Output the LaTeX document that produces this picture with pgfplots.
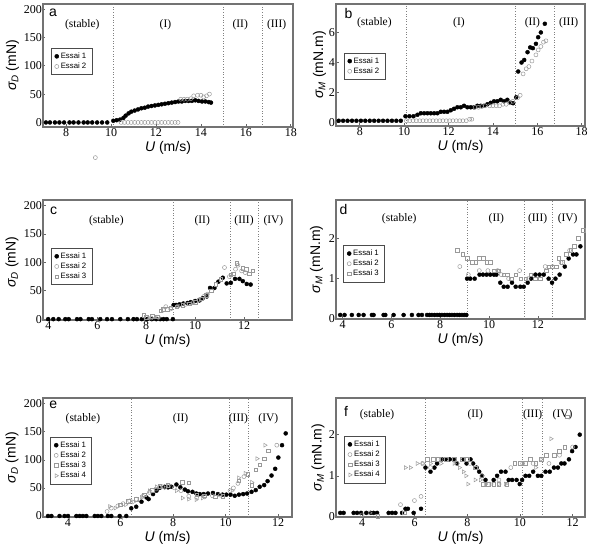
\documentclass[border=0pt]{standalone}
\usepackage{fontspec}
\setmainfont{Liberation Serif}
\setsansfont{Liberation Sans}
\usepackage{pgfplots}
\pgfplotsset{compat=1.18}
\newcommand{\lab}{\sffamily\fontsize{14}{16}\selectfont}
\newcommand{\rl}{\fontsize{11.5}{12}\selectfont}
\tikzset{vl/.style={black!50, dotted, line width=0.6pt}}
\pgfplotsset{
 panel/.style={scale only axis, anchor=south west,
   axis line style={black!55, line width=1.1pt},
   tick align=inside, xtick pos=bottom, ytick pos=left,
   major tick length=2.5pt, tick style={black!60, line width=0.6pt},
   /pgf/number format/assume math mode=true,
   xticklabel={\pgfmathprintnumber[assume math mode=true]{\tick}},
   yticklabel={\pgfmathprintnumber[assume math mode=true]{\tick}},
   ticklabel style={font=\rmfamily\fontsize{12}{13}\selectfont},
   xticklabel style={inner sep=1pt},
   yticklabel style={inner sep=1pt},
   legend style={font=\sffamily\fontsize{7.8}{8.8}\selectfont, draw=black!70, line width=0.5pt, inner xsep=3.5pt, inner ysep=2.5pt, anchor=north west, row sep=-1pt},
   legend cell align=left,
   xlabel={{\itshape U} (m/s)},
   xlabel style={font=\lab, at={(axis description cs:0.5,0)}, anchor=center, yshift=-21pt},
   ylabel style={font=\lab, anchor=center},
 },
 e1/.style={only marks, mark=*, mark size=2pt, black},
 e2/.style={only marks, mark=o, mark size=2pt, black!40, mark options={line width=0.5pt}},
 e3/.style={only marks, mark=square, mark size=1.8pt, black!40, mark options={line width=0.5pt}},
 e4/.style={only marks, mark=triangle, mark size=2.2pt, black!40, mark options={rotate=-90, line width=0.5pt}},
}
\begin{document}
\begin{tikzpicture}
\useasboundingbox (0,0) rectangle (591pt,553pt);
% ---------------- a
\begin{axis}[panel, at={(43pt,426pt)}, width=250pt, height=123pt,
  xmin=6.97, xmax=18.1, ymin=-8, ymax=209, clip=false,
  xtick={8,10,...,18}, ytick={0,50,100,150,200},
  ylabel={{\itshape σ}\textsubscript{\itshape D} (mN)},
  ylabel style={at={(axis description cs:-0.122,0.5)}},
  legend style={at={(rel axis cs:0.032,0.642)}}]
\draw[vl] (axis cs:10.1,-8) -- (axis cs:10.1,209);
\draw[vl] (axis cs:15.0,-8) -- (axis cs:15.0,209);
\draw[vl] (axis cs:16.75,-8) -- (axis cs:16.75,209);
\addplot[e1] coordinates {(7.1,0)(7.28,0)(7.5,0)(7.7,0)(7.91,0)(8.15,0)(8.33,0)(8.55,0)(8.78,0)(8.96,0)(9.16,0)(9.38,0)(9.6,0)(9.83,0)(10.1,3)(10.25,4)(10.4,5)(10.55,8)(10.65,12)(10.78,16)(10.9,19)(11.05,21)(11.2,23)(11.35,25)(11.5,26)(11.65,28)(11.8,29)(11.95,30)(12.1,31)(12.25,32)(12.4,33)(12.55,34)(12.7,35)(12.85,36)(13.0,37)(13.15,37)(13.3,38)(13.45,38)(13.6,38)(13.75,39)(13.9,38)(14.05,37)(14.2,37)(14.35,36)(14.45,35)};
\addlegendentry{Essai 1}
\addplot[e2] coordinates {(10.45,0)(10.6,0)(10.75,0)(10.9,0)(11.05,0)(11.2,0)(11.35,0)(11.5,0)(11.65,0)(11.8,0)(11.95,0)(12.1,0)(12.25,0)(12.4,0)(12.55,0)(12.7,0)(12.85,0)(12.98,0)(13.1,41)(13.25,41)(13.4,41)(13.55,42)(13.68,47)(13.85,48)(14.0,48)(14.12,45)(14.25,47)(14.38,50)(9.3,-62)};
\addlegendentry{Essai 2}
\node[font=\sffamily\fontsize{14}{14}\selectfont] at (rel axis cs:0.04,0.927) {a};
\node[font=\rl] at (axis cs:8.72,172) {(stable)};
\node[font=\rl] at (axis cs:12.42,172) {(I)};
\node[font=\rl] at (axis cs:15.75,172) {(II)};
\node[font=\rl] at (axis cs:17.37,172) {(III)};
\end{axis}
% ---------------- b
\begin{axis}[panel, at={(336pt,427pt)}, width=249pt, height=122pt,
  xmin=6.93, xmax=18.15, ymin=-0.25, ymax=7.9,
  xtick={8,10,...,18}, ytick={0,2,4,6},
  ylabel={{\itshape σ}\textsubscript{\itshape M} (mN.m)},
  ylabel style={at={(axis description cs:-0.066,0.5)}},
  legend style={at={(rel axis cs:0.032,0.6)}}]
\draw[vl] (axis cs:10.1,-0.25) -- (axis cs:10.1,7.9);
\draw[vl] (axis cs:15.0,-0.25) -- (axis cs:15.0,7.9);
\draw[vl] (axis cs:16.75,-0.25) -- (axis cs:16.75,7.9);
\addplot[e1] coordinates {(7.05,0.1)(7.25,.1)(7.45,.1)(7.65,.1)(7.85,.1)(8.05,.1)(8.25,.1)(8.45,.1)(8.65,.1)(8.85,.1)(9.05,.1)(9.25,.1)(9.45,.1)(9.65,.1)(9.85,.1)(10.06,0.4)(10.24,0.4)(10.42,0.4)(10.6,0.5)(10.75,0.6)(10.9,0.6)(11.05,0.6)(11.2,0.6)(11.35,0.6)(11.5,0.6)(11.65,0.7)(11.8,0.7)(11.95,0.7)(12.1,0.8)(12.25,0.9)(12.4,1.0)(12.55,1.0)(12.7,1.1)(12.85,1.0)(13.0,1.0)(13.15,1.0)(13.3,1.1)(13.45,1.1)(13.6,1.1)(13.75,1.2)(13.9,1.3)(14.05,1.4)(14.2,1.4)(14.35,1.5)(14.5,1.4)(14.65,1.5)(14.8,1.3)(14.91,1.27)(15.05,1.67)(15.14,3.39)(15.29,3.99)(15.41,4.16)(15.56,4.68)(15.68,5.0)(15.8,4.95)(15.94,5.24)(16.04,5.68)(16.16,6.0)(16.34,6.58)};
\addlegendentry{Essai 1}
\addplot[e2] coordinates {(10.1,.1)(10.25,.1)(10.4,.1)(10.55,.1)(10.7,.1)(10.85,.1)(11.0,.1)(11.15,.1)(11.3,.1)(11.45,.1)(11.6,.1)(11.75,.1)(11.9,.1)(12.05,.1)(12.2,.1)(12.35,.1)(12.5,.1)(12.65,.1)(12.8,.1)(12.95,0.2)(13.05,0.2)(13.2,1.0)(13.35,1.0)(13.5,1.05)(13.65,1.1)(13.85,1.1)(14.0,1.1)(14.15,1.1)(14.3,1.1)(14.45,1.2)(14.6,1.2)(14.75,1.3)(14.9,1.4)(15.11,1.63)(15.23,1.8)(15.36,3.23)(15.5,3.57)(15.62,3.72)(15.76,4.09)(15.94,4.5)(16.04,4.83)(16.16,5.06)(16.28,5.35)(16.39,5.44)};
\addlegendentry{Essai 2}
\node[font=\sffamily\fontsize{14}{14}\selectfont] at (rel axis cs:0.05,0.924) {b};
\node[font=\rl] at (axis cs:8.66,6.62) {(stable)};
\node[font=\rl] at (axis cs:12.47,6.62) {(I)};
\node[font=\rl] at (axis cs:15.78,6.62) {(II)};
\node[font=\rl] at (axis cs:17.41,6.62) {(III)};
\end{axis}
% ---------------- c
\begin{axis}[panel, at={(43pt,233pt)}, width=249pt, height=120pt,
  xmin=3.78, xmax=13.96, ymin=-1.5, ymax=210,
  xtick={4,6,...,12}, ytick={0,50,100,150,200},
  ylabel={{\itshape σ}\textsubscript{\itshape D} (mN)},
  ylabel style={at={(axis description cs:-0.124,0.48)}},
  legend style={at={(rel axis cs:0.032,0.6)}}]
\draw[vl] (axis cs:9.12,-1.5) -- (axis cs:9.12,210);
\draw[vl] (axis cs:11.44,-1.5) -- (axis cs:11.44,210);
\draw[vl] (axis cs:12.6,-1.5) -- (axis cs:12.6,210);
\addplot[e1] coordinates {(3.99,0)(4.2,0)(4.42,0)(4.69,0)(4.83,0)(5.17,0)(5.31,0)(5.65,0)(5.78,0)(6.12,0)(6.4,0)(6.6,0)(6.94,0)(7.25,0)(7.48,0)(7.62,0)(7.82,0)(8.03,0)(8.23,0)(8.41,0)(8.57,0)(8.71,0)(8.84,0)(9.09,0)(9.12,25)(9.22,25)(9.36,26)(9.52,27.5)(9.69,28.5)(9.82,30)(10.0,32)(10.18,33)(10.31,37)(10.48,40)(10.61,55)(10.79,55)(10.95,66)(11.13,73)(11.29,63)(11.46,64)(11.63,71)(11.81,71)(11.95,67)(12.11,62)(12.27,61)};
\addlegendentry{Essai 1}
\addplot[e2] coordinates {(8.0,3)(8.2,2)(8.5,3)(8.7,16)(8.8,22)(9.0,18)(9.3,23)(9.6,26)(9.9,29)(10.15,34)(10.35,40)(10.5,44)(11.2,91)(11.4,75)(11.65,88)(11.75,95)(11.9,85)(12.05,82)};
\addlegendentry{Essai 2}
\addplot[e3] coordinates {(7.9,7)(8.0,3)(8.25,5)(8.45,4)(8.6,15)(8.7,17)(8.85,17)(9.0,20)(9.25,22)(9.5,24)(9.75,27)(10.0,30)(10.25,36)(10.45,42)(10.65,50)(10.85,62)(11.05,70)(11.45,78)(11.55,80)(11.7,98)(11.95,90)(12.1,88)(12.2,80)(12.35,85)};
\addlegendentry{Essai 3}
\node[font=\sffamily\fontsize{14}{14}\selectfont] at (rel axis cs:0.043,0.91) {c};
\node[font=\rl] at (axis cs:6.37,173) {(stable)};
\node[font=\rl] at (axis cs:10.29,173) {(II)};
\node[font=\rl] at (axis cs:12.0,173) {(III)};
\node[font=\rl] at (axis cs:13.2,173) {(IV)};
\end{axis}
% ---------------- d
\begin{axis}[panel, at={(336pt,234pt)}, width=249pt, height=119pt,
  xmin=3.73, xmax=13.93, ymin=0, ymax=2.95,
  xtick={4,6,...,12}, ytick={0,1,2},
  ylabel={{\itshape σ}\textsubscript{\itshape M} (mN.m)},
  ylabel style={at={(axis description cs:-0.078,0.5)}},
  legend style={at={(rel axis cs:0.03,0.62)}}]
\draw[vl] (axis cs:9.1,0) -- (axis cs:9.1,2.95);
\draw[vl] (axis cs:11.46,0) -- (axis cs:11.46,2.95);
\draw[vl] (axis cs:12.6,0) -- (axis cs:12.6,2.95);
\addplot[e1] coordinates {(3.9,.1)(4.08,.1)(4.38,.1)(4.66,.1)(4.86,.1)(5.2,.1)(5.27,.1)(5.68,.1)(5.75,.1)(6.09,.1)(6.5,.1)(6.84,.1)(7.11,.1)(7.25,.1)(7.46,.1)(7.56,.1)(7.66,.1)(7.77,.1)(7.87,.1)(7.97,.1)(8.07,.1)(8.18,.1)(8.28,.1)(8.38,.1)(8.48,.1)(8.58,.1)(8.69,.1)(8.79,.1)(8.89,.1)(8.98,.1)(9.07,.1)(9.1,1.0)(9.23,1.0)(9.41,1.0)(9.61,1.1)(9.75,1.1)(9.9,1.1)(10.05,1.1)(10.2,1.1)(10.3,1.1)(10.46,0.9)(10.6,0.8)(10.76,0.8)(10.94,0.9)(11.09,0.8)(11.28,0.8)(11.42,0.8)(11.58,0.9)(11.72,1.0)(11.9,1.1)(12.07,1.1)(12.24,1.1)(12.44,1.0)(12.58,0.9)(12.72,1.0)(12.89,1.1)(13.1,1.3)(13.26,1.5)(13.44,1.6)(13.58,1.6)(13.74,1.8)};
\addlegendentry{Essai 1}
\addplot[e2] coordinates {(8.8,1.3)(9.15,1.1)(9.6,1.2)(9.95,1.2)(10.35,1.2)(10.5,1.1)(10.8,1.0)(11.25,1.2)(11.6,1.0)(12.3,1.3)(12.6,1.3)(12.95,1.4)(13.3,1.7)};
\addlegendentry{Essai 2}
\addplot[e3] coordinates {(8.69,1.7)(8.93,1.6)(9.1,1.5)(9.3,1.4)(9.45,1.4)(9.6,1.5)(9.75,1.5)(9.9,1.4)(10.05,1.4)(10.2,1.2)(10.4,1.2)(10.6,1.1)(10.75,1.1)(10.9,1.0)(11.1,1.1)(11.3,1.0)(11.5,1.0)(11.7,1.1)(11.9,1.0)(12.1,1.0)(12.35,1.2)(12.45,1.3)(12.6,1.3)(12.75,1.3)(12.85,1.5)(13.0,1.4)(13.15,1.6)(13.35,1.7)(13.5,1.8)(13.65,2.0)(13.85,2.2)};
\addlegendentry{Essai 3}
\node[font=\sffamily\fontsize{14}{14}\selectfont] at (rel axis cs:0.03,0.916) {d};
\node[font=\rl] at (axis cs:6.32,2.49) {(stable)};
\node[font=\rl] at (axis cs:10.3,2.49) {(II)};
\node[font=\rl] at (axis cs:11.99,2.49) {(III)};
\node[font=\rl] at (axis cs:13.22,2.49) {(IV)};
\end{axis}
% ---------------- e
\begin{axis}[panel, at={(43pt,36pt)}, width=249pt, height=119pt,
  xmin=3.05, xmax=12.53, ymin=-1.8, ymax=210,
  xtick={4,6,...,12}, ytick={0,50,100,150,200},
  ylabel={{\itshape σ}\textsubscript{\itshape D} (mN)},
  ylabel style={at={(axis description cs:-0.124,0.5)}},
  legend style={at={(rel axis cs:0.03,0.673)}}]
\draw[vl] (axis cs:6.42,-1.8) -- (axis cs:6.42,210);
\draw[vl] (axis cs:10.13,-1.8) -- (axis cs:10.13,210);
\draw[vl] (axis cs:10.88,-1.8) -- (axis cs:10.88,210);
\addplot[e1] coordinates {(3.24,0)(3.37,0)(3.68,0)(3.87,0)(4.0,0)(4.32,0)(4.45,0)(4.57,0)(4.7,0)(5.02,0)(5.14,0)(5.27,0)(5.52,0)(5.65,0)(5.97,0)(6.22,0)(6.41,13.6)(6.6,16.5)(6.8,25.4)(6.99,33)(7.07,30)(7.24,39)(7.37,45)(7.49,50)(7.68,52)(7.81,51)(7.94,52)(8.13,56)(8.28,51)(8.45,47)(8.57,44)(8.74,43)(8.89,40)(9.02,39)(9.17,39)(9.33,40)(9.52,41)(9.71,39)(9.88,38)(10.03,38)(10.19,38)(10.35,36)(10.51,38)(10.67,39)(10.82,40)(10.99,43)(11.15,46)(11.3,52)(11.47,55)(11.6,62)(11.75,72)(11.89,84)(12.01,104)(12.15,126)(12.29,147)};
\addlegendentry{Essai 1}
\addplot[e2] coordinates {(5.49,8)(5.65,14)(5.9,18)(6.1,22)(6.35,27)(6.6,30)(6.85,35)(7.1,42)(7.35,48)(7.6,52)(7.85,54)(8.05,50)(8.3,45)(8.6,35)(8.9,33)(9.2,34)(9.5,36)(9.8,37)(10.17,45)(10.3,50)(10.47,58)(10.7,70)(11.95,126)};
\addlegendentry{Essai 2}
\addplot[e3] coordinates {(6.0,20)(6.3,26)(6.6,30)(6.9,38)(7.2,46)(7.5,53)(7.8,55)(8.36,60)(8.6,59)(8.9,38)(9.2,36)(9.6,34)(9.9,35)(10.5,63)(10.85,74)(11.0,55)(11.15,82)(11.3,91)(11.47,102)(11.62,116)};
\addlegendentry{Essai 3}
\addplot[e4] coordinates {(5.59,17)(5.8,14)(6.2,20)(6.5,25)(6.8,33)(7.1,45)(7.37,52)(7.7,50)(8.13,45)(8.36,32)(8.6,30)(8.88,29)(9.12,32)(10.25,45)(10.5,68)(10.75,76)(11.0,60)(11.2,102)(11.5,126)};
\addlegendentry{Essai 4}
\node[font=\sffamily\fontsize{14}{14}\selectfont] at (rel axis cs:0.041,0.94) {e};
\node[font=\rl] at (axis cs:4.57,173) {(stable)};
\node[font=\rl] at (axis cs:8.29,173) {(II)};
\node[font=\rl] at (axis cs:10.49,173) {(III)};
\node[font=\rl] at (axis cs:11.63,173) {(IV)};
\end{axis}
% ---------------- f
\begin{axis}[panel, at={(336pt,36pt)}, width=249pt, height=119pt,
  xmin=3.01, xmax=12.47, ymin=0, ymax=2.89,
  xtick={4,6,...,12}, ytick={0,1,2},
  ylabel={{\itshape σ}\textsubscript{\itshape M} (mN.m)},
  ylabel style={at={(axis description cs:-0.072,0.5)}},
  legend style={at={(rel axis cs:0.033,0.68)}}]
\draw[vl] (axis cs:6.41,0) -- (axis cs:6.41,2.89);
\draw[vl] (axis cs:10.1,0) -- (axis cs:10.1,2.89);
\draw[vl] (axis cs:10.84,0) -- (axis cs:10.84,2.89);
\addplot[e1] coordinates {(3.17,.1)(3.3,.1)(3.68,.1)(3.81,.1)(3.96,.1)(4.16,.1)(4.32,.1)(4.44,.1)(4.57,.1)(5.01,.1)(5.14,.1)(5.27,.1)(5.52,.1)(5.65,0.2)(5.74,0.2)(5.96,0.1)(6.24,0.2)(6.41,1.2)(6.6,1.1)(6.75,1.2)(6.85,1.3)(7.04,1.4)(7.17,1.4)(7.33,1.4)(7.48,1.4)(7.61,1.3)(7.86,1.4)(7.97,1.3)(8.12,1.4)(8.22,1.3)(8.35,1.2)(8.45,1.1)(8.56,1.0)(8.69,0.9)(9.0,0.9)(9.13,1.0)(9.28,1.1)(9.45,1.1)(9.57,0.9)(9.7,0.9)(9.87,0.9)(9.99,0.8)(10.08,0.9)(10.21,1.0)(10.35,1.0)(10.5,1.1)(10.68,1.0)(10.81,1.0)(10.97,1.1)(11.13,1.1)(11.29,1.2)(11.44,1.2)(11.57,1.3)(11.69,1.3)(11.86,1.4)(11.98,1.6)(12.11,1.7)(12.27,2.0)};
\addlegendentry{Essai 1}
\addplot[e2] coordinates {(4.0,0.05)(5.46,0.3)(5.99,0.4)(6.24,0.5)(6.3,1.3)(6.6,1.2)(7.0,1.4)(7.6,1.3)(8.1,1.3)(8.55,1.0)(9.2,0.9)(9.65,1.2)(10.1,1.3)(10.5,1.3)(11.1,1.3)(11.5,1.5)(12.0,1.7)};
\addlegendentry{Essai 2}
\addplot[e3] coordinates {(4.6,0.02)(5.6,0.1)(6.47,1.4)(6.7,1.4)(6.9,1.4)(7.2,1.4)(7.5,1.4)(7.8,1.4)(8.0,1.4)(8.3,1.2)(8.6,0.8)(8.8,0.8)(9.0,0.8)(9.2,0.8)(9.5,0.8)(9.8,1.3)(10.0,1.3)(10.2,1.3)(10.4,1.4)(10.6,1.3)(10.8,1.4)(11.0,1.5)(11.3,1.5)(11.5,1.6)(11.7,1.7)(11.8,2.43)};
\addlegendentry{Essai 3}
\addplot[e4] coordinates {(4.3,0.1)(5.65,1.2)(5.84,1.2)(6.1,1.3)(6.3,1.3)(6.6,1.3)(7.0,1.3)(7.5,1.3)(7.7,1.2)(7.85,1.1)(7.95,1.0)(8.02,0.8)(8.3,0.9)(8.5,0.9)(8.7,0.8)(8.9,0.8)(9.2,0.8)(9.45,0.8)(10.6,1.2)(10.8,1.4)(11.18,1.9)};
\addlegendentry{Essai 4}
\node[font=\sffamily\fontsize{14}{14}\selectfont] at (rel axis cs:0.04,0.883) {f};
\node[font=\rl] at (axis cs:4.57,2.49) {(stable)};
\node[font=\rl] at (axis cs:8.3,2.49) {(II)};
\node[font=\rl] at (axis cs:10.48,2.49) {(III)};
\node[font=\rl] at (axis cs:11.62,2.49) {(IV)};
\end{axis}
\end{tikzpicture}
\end{document}
